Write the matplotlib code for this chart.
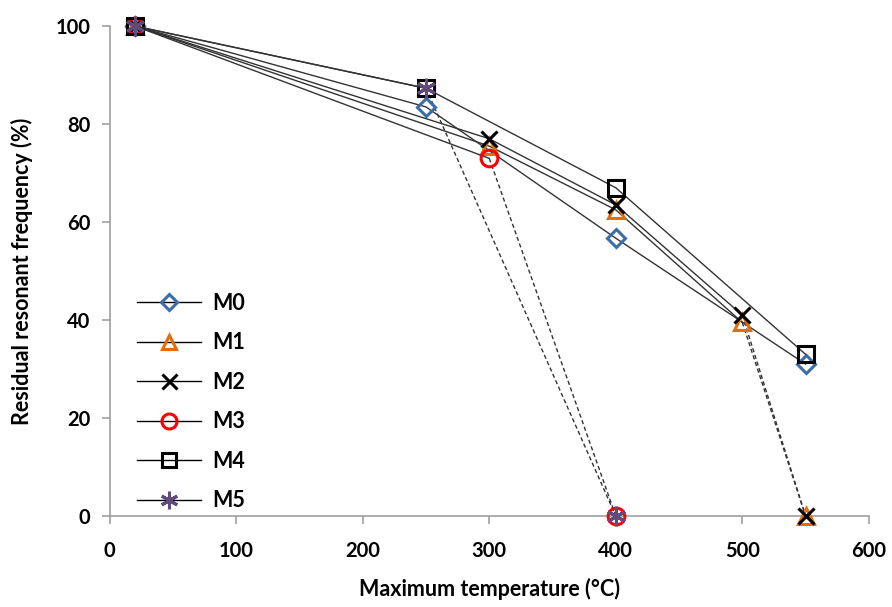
import matplotlib.pyplot as plt

plt.rcParams['font.family'] = ['Lato', 'DejaVu Sans']

# measured series (solid part), then the failure drop (dashed)
temp_m0 = [20, 250, 400, 550]
freq_m0 = [100, 83.5, 56.7, 31]
temp_m1 = [20, 300, 400, 500]
freq_m1 = [100, 75.5, 62.5, 39.5]
temp_m2 = [20, 300, 400, 500]
freq_m2 = [100, 77, 63.5, 41]
temp_m3 = [20, 300]
freq_m3 = [100, 73]
temp_m4 = [20, 250, 400, 550]
freq_m4 = [100, 87.3, 67, 33]
temp_m5 = [20, 250]
freq_m5 = [100, 87.3]

# failure points (residual frequency 0)
fail_m1 = [(500, 39.5), (550, 0)]
fail_m2 = [(500, 41), (550, 0)]
fail_m3 = [(300, 73), (400, 0)]
fail_m5 = [(250, 87.3), (400, 0)]

labels = ["M0", "M1", "M2", "M3", "M4", "M5"]
markers = ["D", "^", "x", "o", "s", (6, 2, 0)]
colors = ["#3C6DA8", "#E46C0A", "black", "#FF0000", "black", "#604A7B"]
sizes = [9, 11, 12, 12, 11.5, 14]

fig = plt.figure(figsize=(8.92, 6.07), dpi=100)
ax = fig.add_axes([0.123, 0.150, 0.851, 0.807])

series = [(temp_m0, freq_m0), (temp_m1, freq_m1), (temp_m2, freq_m2),
          (temp_m3, freq_m3), (temp_m4, freq_m4), (temp_m5, freq_m5)]
fails = {1: fail_m1, 2: fail_m2, 3: fail_m3, 5: fail_m5}

for i, (x, y) in enumerate(series):
    ax.plot(x, y, color="#333333", lw=1.0, marker=markers[i], ms=sizes[i],
            mfc="none" if markers[i] != "x" else colors[i],
            mec=colors[i], mew=2.2, label=labels[i], clip_on=False, zorder=3)
    if i in fails:
        fx = [p[0] for p in fails[i]]
        fy = [p[1] for p in fails[i]]
        ax.plot(fx, fy, color="#333333", lw=1.0, ls=(0, (3, 2)), zorder=2)
        ax.plot(fx[1:], fy[1:], ls="none", marker=markers[i], ms=sizes[i],
                mfc="none", mec=colors[i], mew=2.2, clip_on=False, zorder=3)

ax.set_xlim(0, 600)
ax.set_ylim(0, 100)
ax.set_xticks(range(0, 601, 100))
ax.set_yticks(range(0, 101, 20))
for s in ["top", "right"]:
    ax.spines[s].set_visible(False)
for s in ["left", "bottom"]:
    ax.spines[s].set_color("#A0A0A0")
    ax.spines[s].set_linewidth(1.2)
ax.tick_params(colors="#A0A0A0", labelcolor="black", length=6, width=1.2,
               labelsize=14.5)
ax.tick_params(axis="x", pad=12)
ax.tick_params(axis="y", pad=8)
for t in ax.get_xticklabels() + ax.get_yticklabels():
    t.set_fontweight("bold")

ax.set_xlabel("Maximum temperature (°C)", fontsize=15.5, fontweight="bold", labelpad=12)
ax.set_ylabel("Residual resonant frequency (%)", fontsize=15.5, fontweight="bold", labelpad=16)

leg = ax.legend(loc="lower left", bbox_to_anchor=(0.01, -0.03), frameon=False,
                prop={"size": 15.5, "weight": "bold"}, labelspacing=0.86,
                handlelength=3.0, handletextpad=0.5, markerscale=0.9)
for h in leg.legend_handles:
    h.set_color("black")

fig.savefig("out.png", dpi=100)
